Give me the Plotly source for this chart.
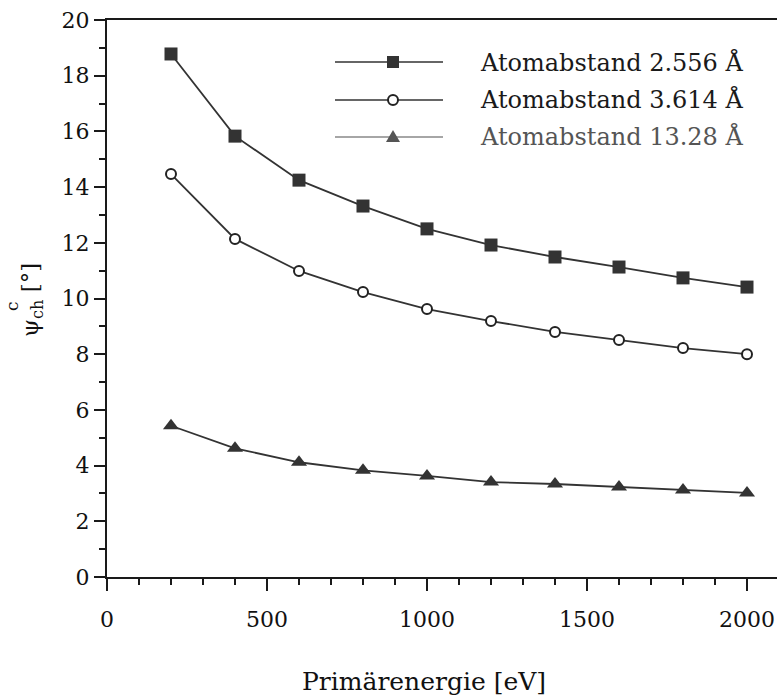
import plotly.graph_objects as go

energy = [200, 400, 600, 800, 1000, 1200, 1400, 1600, 1800, 2000]
psi_2556 = [18.78, 15.83, 14.25, 13.32, 12.50, 11.92, 11.49, 11.13, 10.74, 10.41]
psi_3614 = [14.47, 12.14, 10.99, 10.23, 9.62, 9.19, 8.80, 8.51, 8.22, 8.00]
psi_1328 = [5.43, 4.62, 4.12, 3.83, 3.63, 3.41, 3.34, 3.23, 3.12, 3.02]
names = ["Atomabstand 2.556 Å", "Atomabstand 3.614 Å", "Atomabstand 13.28 Å"]

W, H = 777, 695
L, R, T, B = 107, 0, 20, 118
PW, PH = W - L - R, H - T - B
FONT = "DejaVu Serif"
AX = "#1a1a1a"
TXT = "#111111"

def px(x):
    return (x - L) / PW

def py(y):
    return (H - B - y) / PH

fig = go.Figure()
fig.add_trace(go.Scatter(x=energy, y=psi_2556, mode="lines+markers", name=names[0],
                         line=dict(color="#333333", width=1.8),
                         marker=dict(symbol="square", size=13, color="#333333")))
fig.add_trace(go.Scatter(x=energy, y=psi_3614, mode="lines+markers", name=names[1],
                         line=dict(color="#333333", width=1.8),
                         marker=dict(symbol="circle", size=10, color="white",
                                     line=dict(color="#222222", width=2))))
fig.add_trace(go.Scatter(x=energy, y=psi_1328, mode="lines+markers", name=names[2],
                         line=dict(color="#333333", width=1.8),
                         marker=dict(symbol="triangle-up", size=14, color="#333333")))

shapes = []
annotations = []
leg_y = [62, 100, 137]
line_cols = ["#333333", "#333333", "#888888"]
text_cols = ["#1a1a1a", "#1a1a1a", "#555555"]
for i, yy in enumerate(leg_y):
    shapes.append(dict(type="line", xref="paper", yref="paper",
                       x0=px(335), x1=px(443), y0=py(yy), y1=py(yy),
                       line=dict(color=line_cols[i], width=1.7)))
    annotations.append(dict(text=names[i], xref="paper", yref="paper",
                            x=px(478), y=py(yy), xanchor="left", yanchor="middle",
                            showarrow=False, font=dict(family=FONT, size=24, color=text_cols[i])))
mx = 393
s = 6
shapes.append(dict(type="rect", xref="paper", yref="paper",
                   x0=px(mx - s), x1=px(mx + s), y0=py(leg_y[0] + s), y1=py(leg_y[0] - s),
                   fillcolor="#333333", line=dict(width=0)))
shapes.append(dict(type="circle", xref="paper", yref="paper",
                   x0=px(mx - 5), x1=px(mx + 5), y0=py(leg_y[1] + 5), y1=py(leg_y[1] - 5),
                   fillcolor="white", line=dict(color="#222222", width=2)))
ty = leg_y[2]
shapes.append(dict(type="path", xref="paper", yref="paper",
                   path="M {} {} L {} {} L {} {} Z".format(px(mx - 7), py(ty + 5), px(mx + 7), py(ty + 5), px(mx), py(ty - 7)),
                   fillcolor="#555555", line=dict(width=0)))

annotations.append(dict(text="ψ<sub>ch</sub> [°]", xref="paper", yref="paper",
                        x=px(32), y=py(300), textangle=-90, showarrow=False,
                        xanchor="center", yanchor="middle",
                        font=dict(family=FONT, size=23, color=TXT)))
annotations.append(dict(text="c", xref="paper", yref="paper",
                        x=px(12), y=py(306), textangle=-90, showarrow=False,
                        xanchor="center", yanchor="middle",
                        font=dict(family=FONT, size=17, color=TXT)))
annotations.append(dict(text="Primärenergie [eV]", xref="paper", yref="paper",
                        x=px(424), y=py(681), showarrow=False,
                        xanchor="center", yanchor="middle",
                        font=dict(family=FONT, size=25, color=TXT)))

fig.update_layout(
    width=W, height=H,
    margin=dict(l=L, r=R, t=T, b=B, pad=0),
    paper_bgcolor="white", plot_bgcolor="white",
    showlegend=False,
    font=dict(family=FONT, size=21, color=TXT),
    shapes=shapes, annotations=annotations,
)
fig.update_xaxes(range=[0, PW / 0.32], tick0=0, dtick=500, showgrid=False, zeroline=False,
                 showline=True, linecolor=AX, linewidth=2, mirror=True,
                 ticks="outside", ticklen=12, tickwidth=2, tickcolor=AX,
                 ticklabelstandoff=10,
                 minor=dict(dtick=100, ticks="outside", ticklen=6, tickwidth=2, tickcolor=AX),
                 tickfont=dict(family=FONT, size=22, color=TXT))
fig.update_yaxes(range=[0, 20], tick0=0, dtick=2, showgrid=False, zeroline=False,
                 showline=True, linecolor=AX, linewidth=2,
                 ticks="outside", ticklen=11, tickwidth=2, tickcolor=AX,
                 minor=dict(dtick=1, ticks="outside", ticklen=6, tickwidth=2, tickcolor=AX),
                 tickfont=dict(family=FONT, size=22, color=TXT))

fig.write_html("out.html")
